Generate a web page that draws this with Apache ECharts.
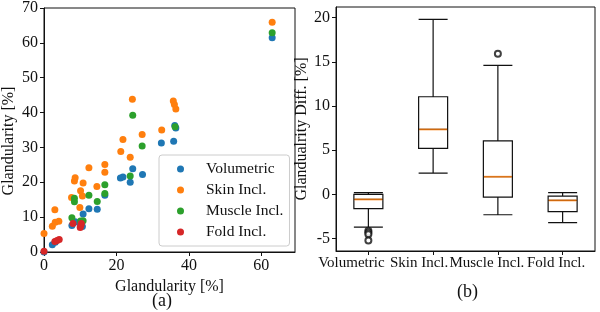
<!DOCTYPE html>
<html lang="en">

<head>
    <meta charset="UTF-8">
    <title>Glandularity</title>
    <script src="https://cdn.jsdelivr.net/npm/echarts@6/dist/echarts.min.js"></script>
</head>

<body style="margin:0">
    <div id="chart" style="width:600px;height:312px;"></div>
</body>
<script>
    // (a) scatter: [reference glandularity, estimated glandularity]
    var volumetric = [[0, 0], [2.3, 2.1], [3.1, 2.8], [7.7, 7.6], [8.6, 8.7], [10.6, 7.3], [10.0, 7.6], [10.8, 10.9],
        [12.4, 12.4], [14.7, 12.3], [16.8, 16.3], [21.1, 21.2], [21.8, 21.5], [23.8, 20.0], [24.5, 23.9], [27.2, 22.2],
        [32.4, 31.3], [35.8, 31.8], [36.1, 36.3], [36.4, 35.6], [63, 61.5]];
    var skinIncl = [[0, 5.3], [2.3, 7.4], [3.1, 8.5], [4.1, 8.8], [3.0, 12.1], [7.6, 15.6], [10.6, 16.1], [9.9, 12.8],
        [10.1, 17.6], [10.8, 19.8], [8.4, 20.4], [8.6, 21.3], [14.6, 18.8], [12.4, 24.2], [16.8, 25.1], [16.8, 22.9],
        [21.2, 28.8], [21.8, 32.3], [23.8, 27.2], [24.4, 43.8], [27.1, 33.7], [32.5, 35.0], [35.7, 43.3], [36.0, 42.3],
        [36.4, 41.0], [63, 65.9]];
    var muscleIncl = [[7.7, 9.8], [8.4, 15.4], [8.4, 14.4], [10.1, 8.9], [10.8, 9.0], [12.4, 16.3], [14.7, 14.5],
        [16.8, 19.3], [16.8, 16.8], [23.8, 21.8], [24.5, 39.2], [27.1, 30.4], [36.2, 35.9], [63, 62.9]];
    var foldIncl = [[0, 0.2], [3.0, 3.0], [3.6, 3.3], [4.2, 3.6], [8.0, 8.2], [10.0, 7.0], [10.2, 7.7], [10.3, 8.2]];

    // (b) box plot: [min, Q1, median, Q3, max]
    var categories = ['Volumetric', 'Skin Incl.', 'Muscle Incl.', 'Fold Incl.'];
    var boxData = [
        [-3.7, -1.6, -0.57, 0.0, 0.2],
        [2.4, 5.2, 7.35, 11.05, 19.8],
        [-2.3, -0.3, 2.0, 6.05, 14.6],
        [-3.2, -1.95, -0.68, -0.2, 0.2]
    ];
    var outliers = [[0, -4.1], [0, -4.3], [0, -4.5], [0, -5.2], [2, 15.9]];
    var diffTicks = [-5, 0, 5, 10, 15, 20];

    var serif = 'Liberation Serif';
    var ink = '#111';
    var colors = ['#1f77b4', '#ff7f0e', '#2ca02c', '#d62728'];

    function axisBase() {
        return {
            axisLine: { show: true, onZero: false, lineStyle: { color: ink, width: 1 } },
            axisTick: { show: true, length: 4, lineStyle: { color: ink } },
            axisLabel: { color: ink, fontFamily: serif, fontSize: 16, margin: 6 },
            splitLine: { show: false },
            nameTextStyle: { color: ink, fontFamily: serif, fontSize: 16 }
        };
    }

    var xA = Object.assign(axisBase(), {
        type: 'value', gridIndex: 0, min: 0, max: 69.3, interval: 20,
        name: 'Glandularity [%]', nameLocation: 'middle', nameGap: 24
    });
    xA.axisLabel.showMaxLabel = false;
    var yA = Object.assign(axisBase(), {
        type: 'value', gridIndex: 0, min: 0, max: 70, interval: 10,
        name: 'Glandularity [%]', nameLocation: 'middle', nameGap: 27
    });
    yA.nameTextStyle.padding = [0, 22, 0, 0];

    // category labels in the source sit a bit left of their ticks
    function catStyle(padRight) {
        return { fontFamily: serif, fontSize: 15, color: ink, padding: [0, padRight, 0, 0] };
    }
    var xB = Object.assign(axisBase(), {
        type: 'category', gridIndex: 1, data: categories
    });
    xB.axisTick.alignWithLabel = true;
    xB.axisLabel.interval = 0;
    xB.axisLabel.hideOverlap = false;
    xB.axisLabel.margin = 5;
    xB.axisLabel.formatter = function (v, i) { return '{c' + i + '|' + v + '}'; };
    xB.axisLabel.rich = { c0: catStyle(34), c1: catStyle(28), c2: catStyle(22), c3: catStyle(13) };
    var yB = Object.assign(axisBase(), {
        type: 'value', gridIndex: 1, min: -6.4, max: 21.2,
        name: 'Glandualrity Diff. [%]', nameLocation: 'middle', nameGap: 25
    });
    yB.axisTick.customValues = diffTicks;
    yB.axisLabel.customValues = diffTicks;

    function scatter(name, data, i) {
        return {
            name: name, type: 'scatter', xAxisIndex: 0, yAxisIndex: 0,
            data: data, symbolSize: 7, itemStyle: { color: colors[i], opacity: 1 }
        };
    }

    var option = {
        animation: false,
        backgroundColor: '#fff',
        grid: [
            { left: 43, top: 7, width: 252, height: 245, show: true, borderColor: ink, borderWidth: 1 },
            { left: 336, top: 7, width: 259, height: 244, show: true, borderColor: ink, borderWidth: 1 }
        ],
        xAxis: [xA, xB],
        yAxis: [yA, yB],
        legend: {
            data: ['Volumetric', 'Skin Incl.', 'Muscle Incl.', 'Fold Incl.'],
            orient: 'vertical', left: 159, top: 155,
            icon: 'circle', itemWidth: 7, itemHeight: 7, itemGap: 5,
            padding: [6, 6, 6, 18],
            borderColor: '#ccc', borderWidth: 1, borderRadius: 3, backgroundColor: '#fff',
            textStyle: { fontFamily: serif, fontSize: 15.5, color: ink, padding: [0, 0, 0, 17] }
        },
        graphic: [
            { type: 'text', left: 152, top: 292, style: { text: '(a)', font: '18px "Liberation Serif"', fill: ink } },
            { type: 'text', left: 457, top: 283, style: { text: '(b)', font: '18px "Liberation Serif"', fill: ink } }
        ],
        series: [
            scatter('Volumetric', volumetric, 0),
            scatter('Skin Incl.', skinIncl, 1),
            scatter('Muscle Incl.', muscleIncl, 2),
            scatter('Fold Incl.', foldIncl, 3),
            {
                type: 'boxplot', xAxisIndex: 1, yAxisIndex: 1,
                data: boxData, boxWidth: [29, 29],
                itemStyle: { color: '#fff', borderColor: ink, borderWidth: 1.2 }
            },
            {
                type: 'scatter', xAxisIndex: 1, yAxisIndex: 1, z: 5,
                symbol: 'rect', symbolSize: [28, 1.8],
                data: boxData.map(function (b, i) { return [i, b[2]]; }),
                itemStyle: { color: '#ff7f0e' }
            },
            {
                type: 'scatter', xAxisIndex: 1, yAxisIndex: 1, clip: false,
                symbol: 'emptyCircle', symbolSize: 6,
                data: outliers,
                itemStyle: { color: ink, borderColor: ink, borderWidth: 1 }
            }
        ]
    };

    var chart = echarts.init(document.getElementById('chart'));
    chart.setOption(option);
</script>

</html>
